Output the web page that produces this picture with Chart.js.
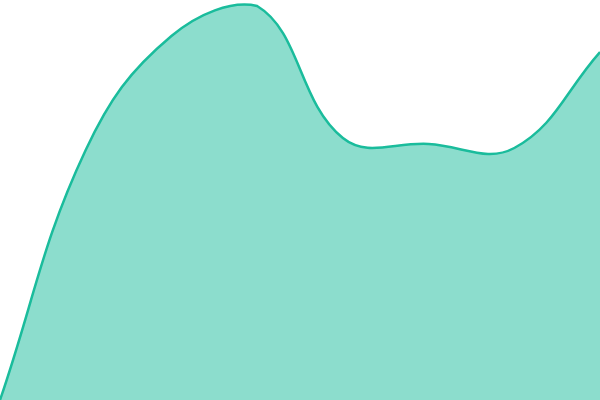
<!DOCTYPE html>
<html>
<head>
<meta charset="utf-8">
<script src="https://cdn.jsdelivr.net/npm/chart.js@4/dist/chart.umd.min.js"></script>
<style>
    html, body { margin: 0; padding: 0; background: #fff; }
    #wrap { width: 600px; height: 400px; }
</style>
</head>
<body>
<div id="wrap"><canvas id="chart"></canvas></div>
<script>
const labels = ["1", "2", "3", "4", "5", "6", "7", "8"]
const values = [0, 62.5, 91, 98.5, 65.5, 64, 63, 87]

new Chart(document.getElementById("chart"), {
    type: "line",
    data: {
        labels,
        datasets: [{
            data: values,
            borderColor: "#1abc9c",
            backgroundColor: "rgba(26, 188, 156, 0.5)",
            borderWidth: 2.5,
            fill: true,
            tension: 0.4,
            pointRadius: 0,
        }],
    },
    options: {
        responsive: true,
        maintainAspectRatio: false,
        animation: false,
        layout: { padding: 0 },
        plugins: {
            legend: { display: false },
            tooltip: { enabled: false },
        },
        scales: {
            x: { display: false, offset: false },
            y: { display: false, min: 0, max: 100 },
        },
    },
})
</script>
</body>
</html>
